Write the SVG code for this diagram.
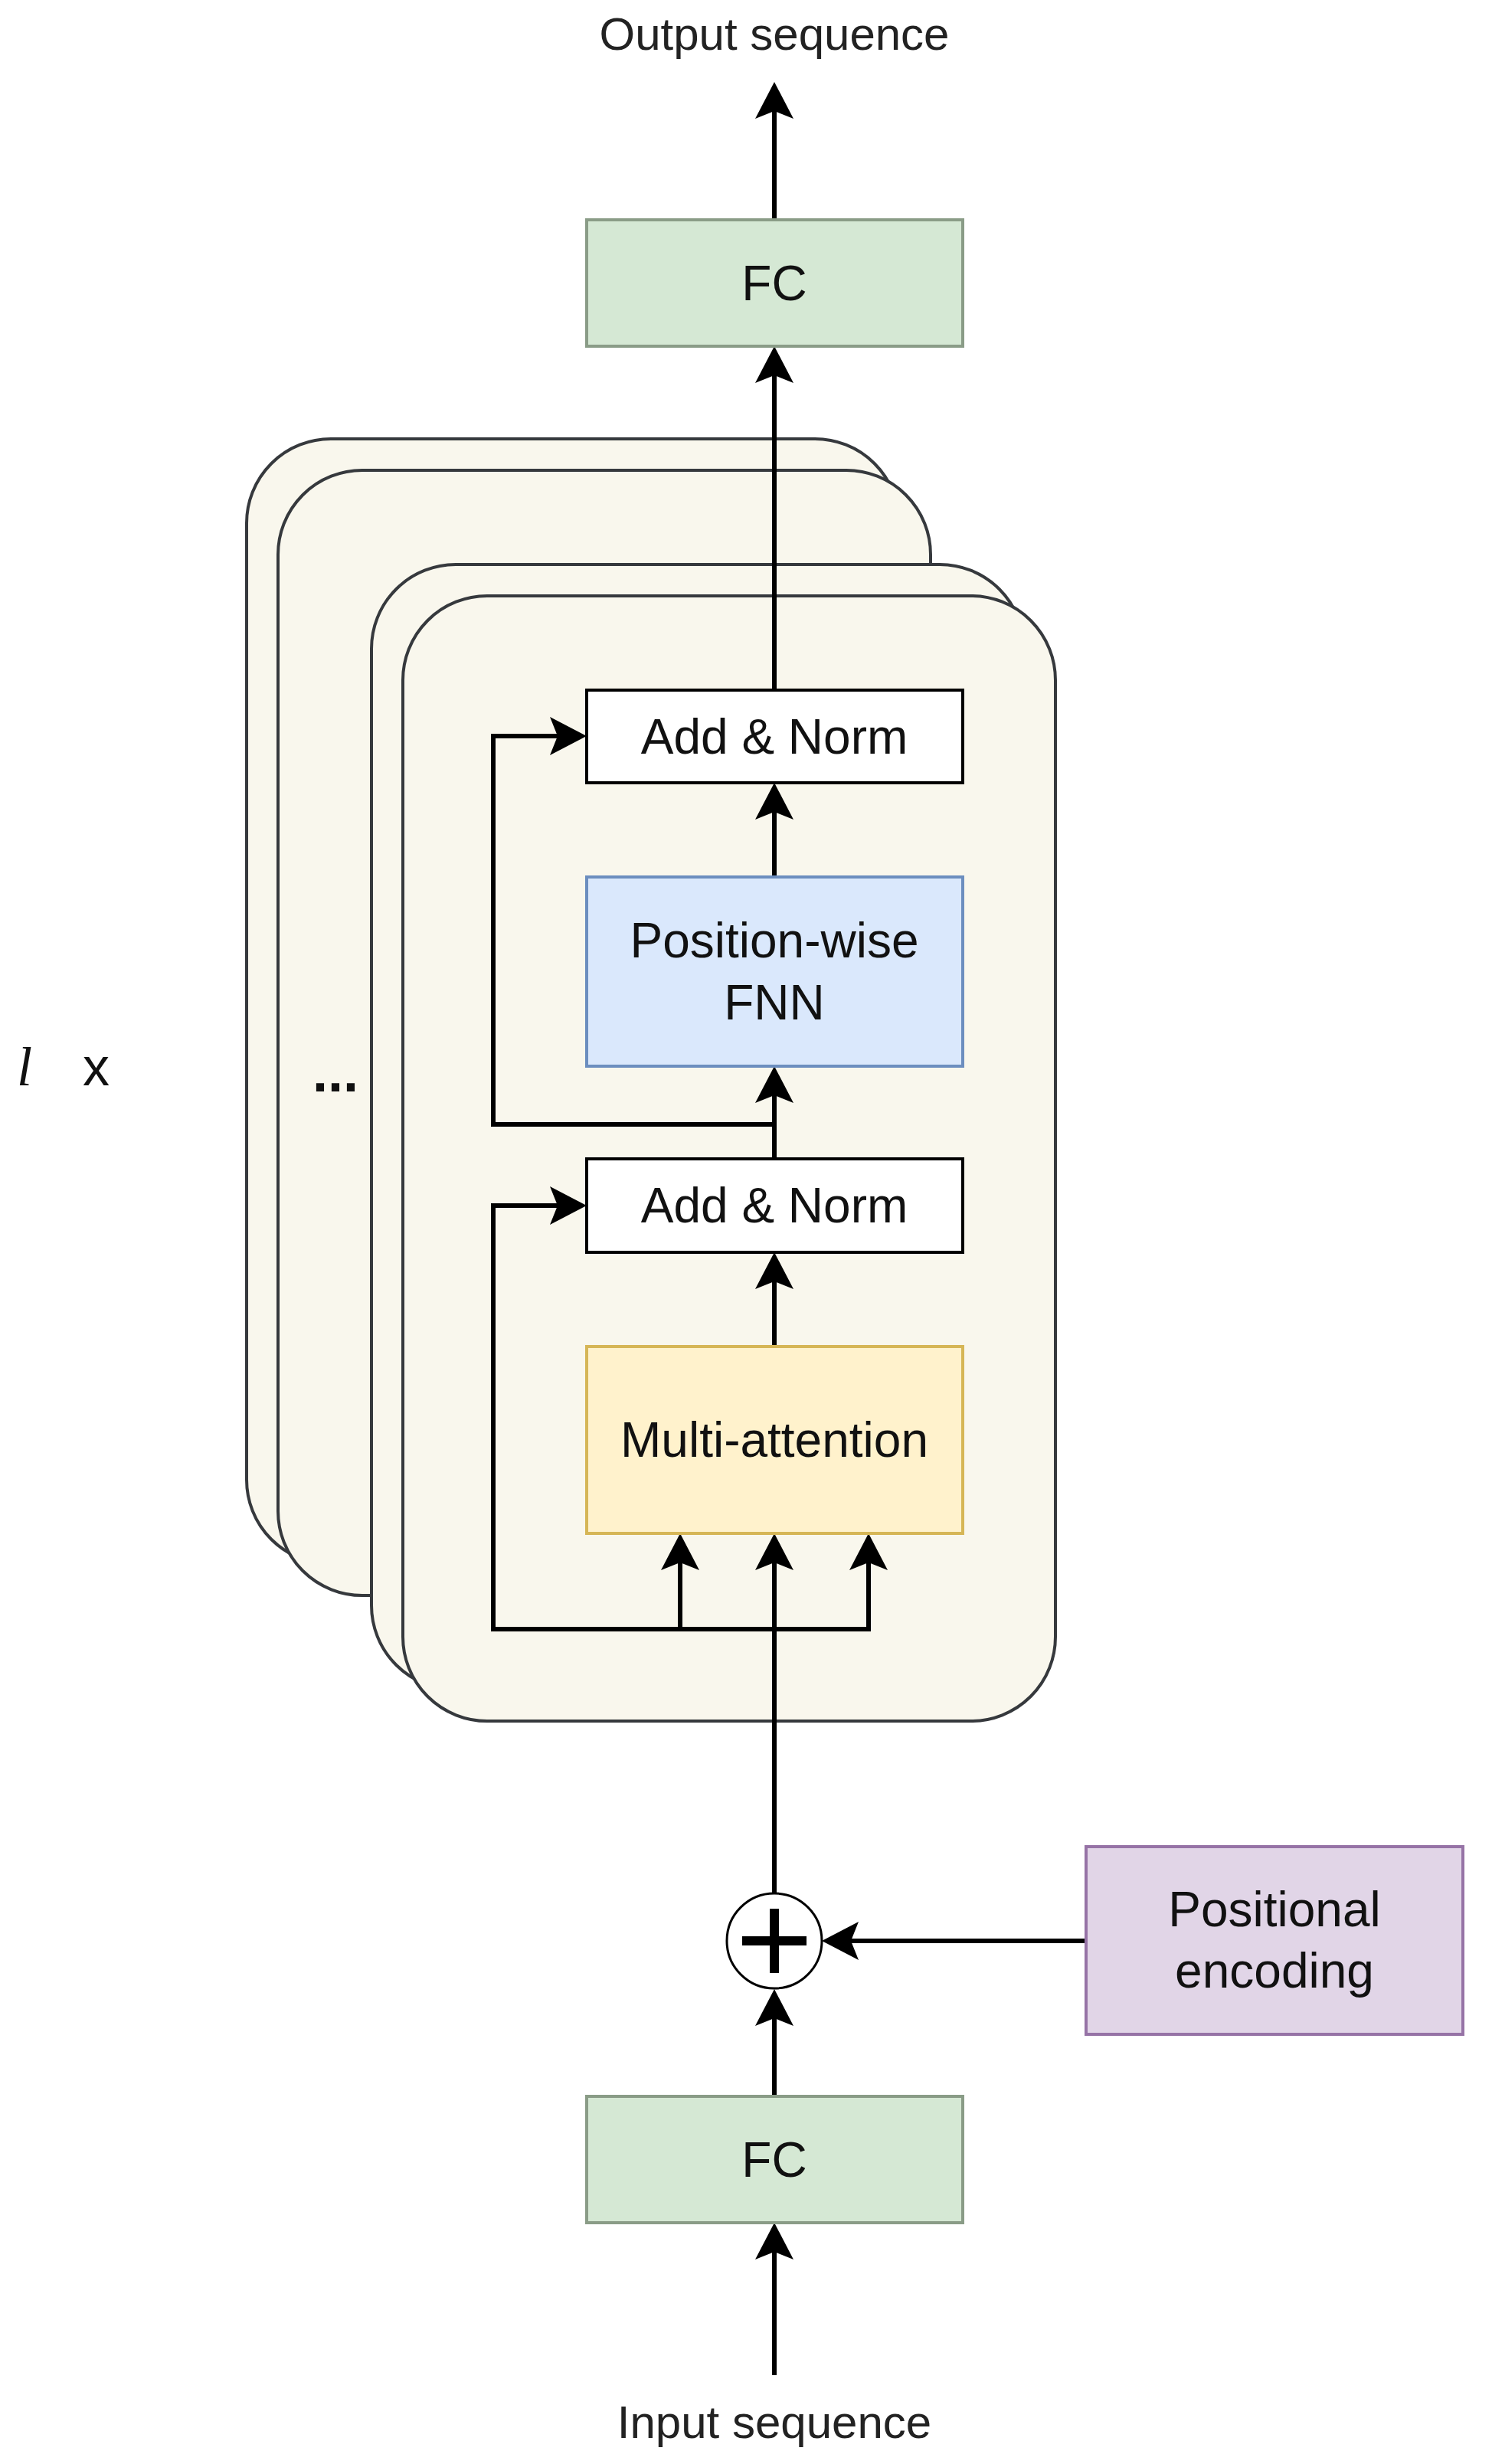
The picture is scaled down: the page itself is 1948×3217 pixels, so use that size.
<svg xmlns="http://www.w3.org/2000/svg" width="1948" height="3217" viewBox="0 0 1948 3217">
<defs>
<style>
.card{fill:#f9f7ed;stroke:#36393d;stroke-width:4}
.box{stroke-width:4}
.lbl{font-family:"Liberation Sans",Arial,sans-serif;font-size:64px;fill:#111;text-anchor:middle}
.out{font-family:"Liberation Sans",Arial,sans-serif;font-size:60px;fill:#222;text-anchor:middle}
.edge{fill:none;stroke:#000;stroke-width:6;stroke-linejoin:miter}
</style>
<marker id="ah" markerUnits="userSpaceOnUse" markerWidth="48" markerHeight="50" viewBox="0 0 48 50" refX="10" refY="25" orient="auto">
<path d="M0,0 L48,25 L0,50 L10,25 Z" fill="#000"/>
</marker>
</defs>
<rect width="1948" height="3217" fill="#fff"/>

<g id="layer-stack">
<rect class="card" x="322" y="573" width="852" height="1469" rx="110" ry="110"/>
<rect class="card" x="363" y="614" width="852" height="1469" rx="110" ry="110"/>
<rect class="card" x="485" y="737" width="852" height="1469" rx="110" ry="110"/>
<rect class="card" x="526" y="778" width="852" height="1469" rx="110" ry="110"/>
</g>

<g id="repeat-label">
<text x="22" y="1417" font-family="'Liberation Serif','Times New Roman',serif" font-style="italic" font-size="72" fill="#111">l</text>
<text x="108" y="1417" font-family="'Liberation Sans',Arial,sans-serif" font-size="70" fill="#111">x</text>
<text x="438" y="1425" font-family="'Liberation Sans',Arial,sans-serif" font-size="72" font-weight="bold" fill="#111" text-anchor="middle">...</text>
</g>

<g id="connectors">
<path class="edge" d="M1011,3101 V2940" marker-end="url(#ah)"/>
<path class="edge" d="M1011,2737 V2635" marker-end="url(#ah)"/>
<path class="edge" d="M1418,2534 H1111" marker-end="url(#ah)"/>
<path class="edge" d="M1011,2472 V2040" marker-end="url(#ah)"/>
<path class="edge" d="M1011,2127 H644 V1574 H728" marker-end="url(#ah)"/>
<path class="edge" d="M1011,2127 H888 V2040" marker-end="url(#ah)"/>
<path class="edge" d="M1011,2127 H1134 V2040" marker-end="url(#ah)"/>
<path class="edge" d="M1011,1758 V1673" marker-end="url(#ah)"/>
<path class="edge" d="M1011,1513 V1430" marker-end="url(#ah)"/>
<path class="edge" d="M1011,1468 H644 V961 H728" marker-end="url(#ah)"/>
<path class="edge" d="M1011,1145 V1060" marker-end="url(#ah)"/>
<path class="edge" d="M1011,901 V490" marker-end="url(#ah)"/>
<path class="edge" d="M1011,287 V145" marker-end="url(#ah)"/>
</g>

<g id="output-label">
<text class="out" x="1011" y="65">Output sequence</text>
</g>

<g id="fc-top">
<rect class="box" x="766" y="287" width="491" height="165" fill="#d5e8d4" stroke="#8a9c87"/>
<text class="lbl" x="1011" y="392">FC</text>
</g>

<g id="add-norm-top">
<rect class="box" x="766" y="901" width="491" height="121" fill="#fff" stroke="#000"/>
<text class="lbl" x="1011" y="984">Add &amp; Norm</text>
</g>

<g id="ffn">
<rect class="box" x="766" y="1145" width="491" height="247" fill="#dae8fc" stroke="#6c8ebf"/>
<text class="lbl" x="1011" y="1250">Position-wise</text>
<text class="lbl" x="1011" y="1331">FNN</text>
</g>

<g id="add-norm-bottom">
<rect class="box" x="766" y="1513" width="491" height="122" fill="#fff" stroke="#000"/>
<text class="lbl" x="1011" y="1596">Add &amp; Norm</text>
</g>

<g id="multi-attention">
<rect class="box" x="766" y="1758" width="491" height="244" fill="#fff2cc" stroke="#d6b656"/>
<text class="lbl" x="1011" y="1902">Multi-attention</text>
</g>

<g id="add-op">
<circle cx="1011" cy="2534" r="62" fill="#fff" stroke="#000" stroke-width="3"/>
<path d="M969,2534 H1053 M1011,2492 V2576" stroke="#000" stroke-width="12" fill="none"/>
</g>

<g id="positional-encoding">
<rect class="box" x="1418" y="2411" width="492" height="245" fill="#e1d5e7" stroke="#9673a6"/>
<text class="lbl" x="1664" y="2515">Positional</text>
<text class="lbl" x="1664" y="2595">encoding</text>
</g>

<g id="fc-bottom">
<rect class="box" x="766" y="2737" width="491" height="165" fill="#d5e8d4" stroke="#8a9c87"/>
<text class="lbl" x="1011" y="2842">FC</text>
</g>

<g id="input-label">
<text class="out" x="1011" y="3183">Input sequence</text>
</g>
</svg>
